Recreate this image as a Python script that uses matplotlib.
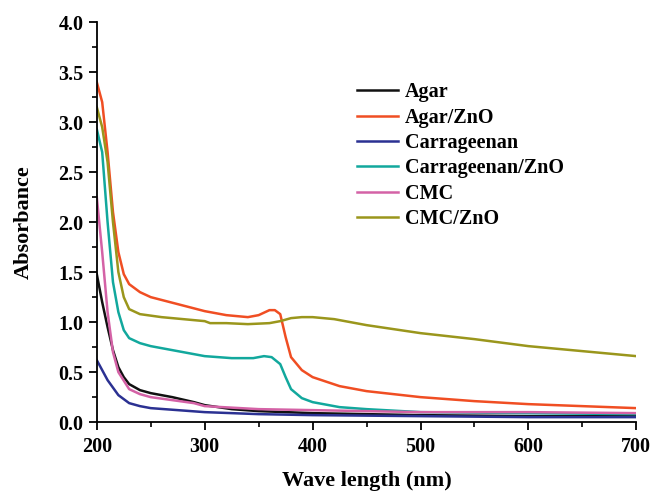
import matplotlib.pyplot as plt
from matplotlib.ticker import MultipleLocator

plt.rcParams['font.family'] = 'Liberation Serif'
plt.rcParams['font.weight'] = 'bold'

# wavelength grids (nm) and absorbance
wl_agar = [200, 205, 210, 215, 220, 225, 230, 240, 250, 270, 290, 300, 325, 350, 400, 450, 500, 600, 700]
agar = [1.48, 1.2, 0.95, 0.72, 0.55, 0.45, 0.38, 0.32, 0.29, 0.25, 0.2, 0.17, 0.13, 0.11, 0.09, 0.08, 0.07, 0.06, 0.06]

wl_agar_zno = [200, 205, 210, 215, 220, 225, 230, 240, 250, 275, 300, 320, 340, 350, 360, 365, 370,
               375, 380, 390, 400, 425, 450, 500, 550, 600, 650, 700]
agar_zno = [3.40, 3.2, 2.7, 2.1, 1.7, 1.48, 1.38, 1.30, 1.25, 1.18, 1.11, 1.07, 1.05, 1.07, 1.12, 1.12, 1.08,
            0.85, 0.65, 0.52, 0.45, 0.36, 0.31, 0.25, 0.21, 0.18, 0.16, 0.14]

wl_carr = [200, 210, 220, 230, 240, 250, 300, 350, 400, 500, 600, 700]
carr = [0.62, 0.42, 0.27, 0.19, 0.16, 0.14, 0.10, 0.08, 0.07, 0.06, 0.05, 0.05]

wl_carr_zno = [200, 205, 210, 215, 220, 225, 230, 240, 250, 275, 300, 325, 345, 355, 362, 370,
               375, 380, 390, 400, 425, 450, 500, 600, 700]
carr_zno = [2.93, 2.7, 2.0, 1.4, 1.1, 0.92, 0.84, 0.79, 0.76, 0.71, 0.66, 0.64, 0.64, 0.66, 0.65, 0.58,
            0.45, 0.33, 0.24, 0.20, 0.15, 0.13, 0.10, 0.09, 0.08]

wl_cmc = [200, 205, 210, 215, 220, 230, 240, 250, 270, 290, 300, 350, 400, 500, 600, 700]
cmc = [2.25, 1.7, 1.1, 0.7, 0.5, 0.33, 0.28, 0.25, 0.22, 0.19, 0.16, 0.13, 0.12, 0.10, 0.10, 0.09]

wl_cmc_zno = [200, 205, 210, 215, 220, 225, 230, 240, 260, 280, 300, 305, 320, 340, 360, 370, 380,
              390, 400, 420, 450, 500, 550, 600, 650, 700]
cmc_zno = [3.15, 2.95, 2.6, 2.0, 1.5, 1.25, 1.13, 1.08, 1.05, 1.03, 1.01, 0.99, 0.99, 0.98, 0.99, 1.01, 1.04,
           1.05, 1.05, 1.03, 0.97, 0.89, 0.83, 0.76, 0.71, 0.66]

fig = plt.figure(figsize=(6.54, 4.92), dpi=100)
ax = fig.add_axes([0.148, 0.142, 0.825, 0.813])

ax.plot(wl_agar, agar, color='#111111', lw=1.8, label='Agar')
ax.plot(wl_agar_zno, agar_zno, color='#f04e23', lw=1.8, label='Agar/ZnO')
ax.plot(wl_carr, carr, color='#2b3192', lw=1.8, label='Carrageenan')
ax.plot(wl_carr_zno, carr_zno, color='#12a89d', lw=1.8, label='Carrageenan/ZnO')
ax.plot(wl_cmc, cmc, color='#d462a6', lw=1.8, label='CMC')
ax.plot(wl_cmc_zno, cmc_zno, color='#9a961c', lw=1.8, label='CMC/ZnO')

ax.set_xlim(200, 700)
ax.set_ylim(0, 4.0)
ax.xaxis.set_major_locator(MultipleLocator(100))
ax.xaxis.set_minor_locator(MultipleLocator(50))
ax.yaxis.set_major_locator(MultipleLocator(0.5))
ax.yaxis.set_minor_locator(MultipleLocator(0.25))
ax.spines['top'].set_visible(False)
ax.spines['right'].set_visible(False)
for s in ('left', 'bottom'):
    ax.spines[s].set_linewidth(1.3)
ax.tick_params(which='major', length=6, width=1.3, labelsize=14.5)
ax.tick_params(which='minor', length=3.5, width=1.2)
ax.tick_params(axis='x', which='major', pad=5)
ax.yaxis.set_major_formatter(plt.FormatStrFormatter('%.1f'))

ax.set_xlabel('Wave length (nm)', fontsize=16, fontweight='bold', labelpad=10)
ax.set_ylabel('Absorbance', fontsize=16, fontweight='bold', labelpad=18)

ax.legend(loc='upper left', bbox_to_anchor=(0.482, 0.85), frameon=False, fontsize=14.5,
          handlelength=2.05, handletextpad=0.35, labelspacing=0.27, borderpad=0, borderaxespad=0)

plt.savefig('out.png')
